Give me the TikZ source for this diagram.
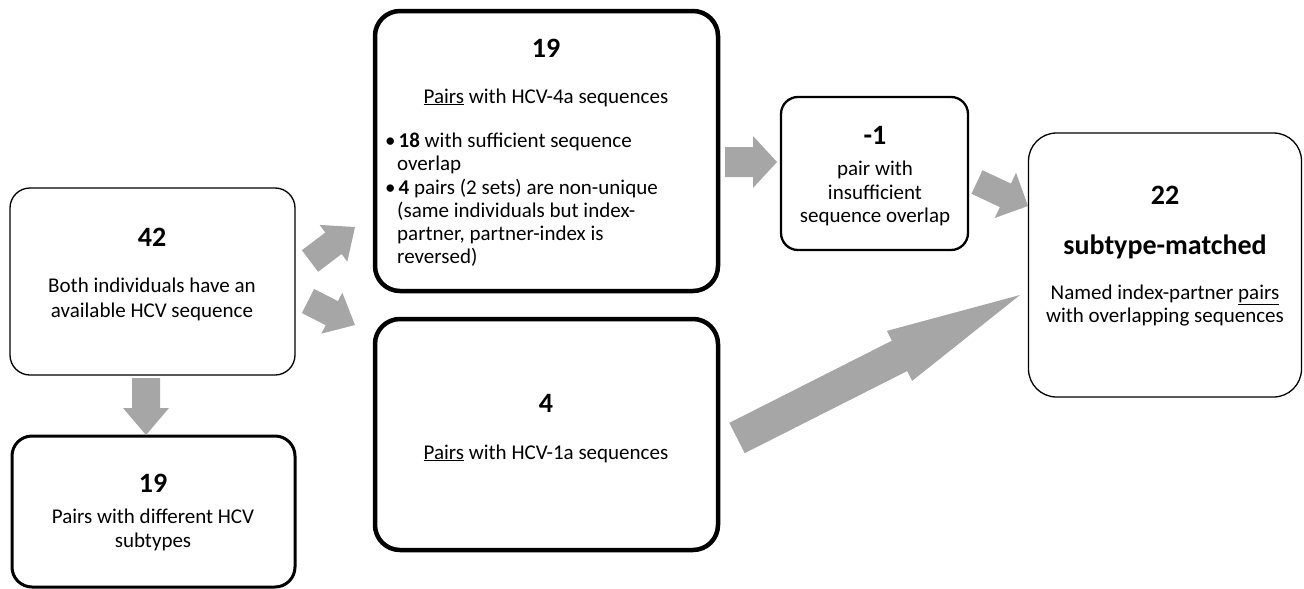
\documentclass[tikz,border=0pt]{standalone}
\usepackage{fontspec}
\setmainfont{Carlito}
\usetikzlibrary{calc}
\definecolor{arrowgrey}{HTML}{A6A6A6}
\newcommand\numfont{\fontsize{28}{34}\selectfont\bfseries}
\newcommand\bodyfont{\fontsize{21}{25}\selectfont}
\newcommand\blockarrow[5]{%
  \path ($(#2)!#5pt!(#1)$) coordinate (hb);
  \fill[arrowgrey] ($(#1)!#3pt!90:(#2)$) -- ($(hb)!#3pt!90:(#2)$) -- ($(hb)!#4pt!90:(#2)$) -- (#2)
    -- ($(hb)!#4pt!-90:(#2)$) -- ($(hb)!#3pt!-90:(#2)$) -- ($(#1)!#3pt!-90:(#2)$) -- cycle;}
\tikzset{
  box/.style={draw=black, fill=white, inner sep=0pt, rounded corners=#1},
  txt/.style={anchor=base, inner sep=0pt, font=\bodyfont},
  ltxt/.style={anchor=base west, inner sep=0pt, font=\bodyfont},
  num/.style={anchor=base, inner sep=0pt, font=\numfont},
}
\begin{document}
\begin{tikzpicture}[x=1pt,y=-1pt]
\useasboundingbox (0,0) rectangle (1304,589);
% boxes
\node[box=20pt, line width=1.3pt, minimum width=285pt, minimum height=187pt] (b42) at (152.5,281.5) {};
\node[box=20pt, line width=3pt, minimum width=283pt, minimum height=151pt] (b19b) at (153.5,511.5) {};
\node[box=25pt, line width=4.5pt, minimum width=343pt, minimum height=280pt] (b19t) at (546.5,151) {};
\node[box=25pt, line width=4.5pt, minimum width=343pt, minimum height=231pt] (b4) at (546.5,434.5) {};
\node[box=17pt, line width=2.3pt, minimum width=187pt, minimum height=153pt] (bm1) at (874.5,173.5) {};
\node[box=28pt, line width=1.3pt, minimum width=273pt, minimum height=264pt] (b22) at (1165,265) {};
% arrows
\coordinate (a1t) at (310,261); \coordinate (a1h) at (355,227);
\coordinate (a2t) at (308,301); \coordinate (a2h) at (355,325);
\coordinate (a3t) at (146,378); \coordinate (a3h) at (146,435);
\coordinate (a4t) at (725,162); \coordinate (a4h) at (777,162);
\coordinate (a5t) at (977,182); \coordinate (a5h) at (1028,206);
\coordinate (a6t) at (737,438); \coordinate (a6h) at (1020,295);
\blockarrow{a1t}{a1h}{13.5}{23}{27}
\blockarrow{a2t}{a2h}{13.5}{23}{26}
\blockarrow{a3t}{a3h}{14}{23}{27}
\blockarrow{a4t}{a4h}{15}{26}{24}
\blockarrow{a5t}{a5h}{13}{25}{25}
\blockarrow{a6t}{a6h}{17}{28}{135}
% texts box 42
\node[num] (t42a) at (152,246) {42};
\node[txt] (t42b) at (152,292) {Both individuals have an};
\node[txt] (t42c) at (152,317) {available HCV sequence};
% box 19 bottom
\node[num] (t19a) at (153,492) {19};
\node[txt] (t19b) at (153,523) {Pairs with different HCV};
\node[txt] (t19c) at (153,547) {subtypes};
% box 19 top
\node[num] (u19a) at (546,57) {19};
\node[txt] (u19b) at (546,103) {\underline{Pairs} with HCV-4a sequences};
\node[ltxt] (u19c) at (385,147) {\textbullet\hspace{3pt}\textbf{18} with sufficient sequence};
\node[ltxt] (u19d) at (397,170) {overlap};
\node[ltxt] (u19e) at (385,194) {\textbullet\hspace{3pt}\textbf{4} pairs (2 sets) are non-unique};
\node[ltxt] (u19f) at (397,217) {(same individuals but index-};
\node[ltxt] (u19g) at (397,240) {partner, partner-index is};
\node[ltxt] (u19h) at (397,263) {reversed)};
% box 4
\node[num] (t4a) at (546,412) {4};
\node[txt] (t4b) at (546,459) {\underline{Pairs} with HCV-1a sequences};
% box -1
\node[num] (tm1a) at (875,144) {-1};
\node[txt] (tm1b) at (875,175) {pair with};
\node[txt] (tm1c) at (875,199) {insufficient};
\node[txt] (tm1d) at (875,222) {sequence overlap};
% box 22
\node[num] (t22a) at (1165,204) {22};
\node[num] (t22b) at (1165,254) {subtype-matched};
\node[txt] (t22c) at (1165,299) {Named index-partner \underline{pairs}};
\node[txt] (t22d) at (1165,322) {with overlapping sequences};
\end{tikzpicture}
\end{document}
